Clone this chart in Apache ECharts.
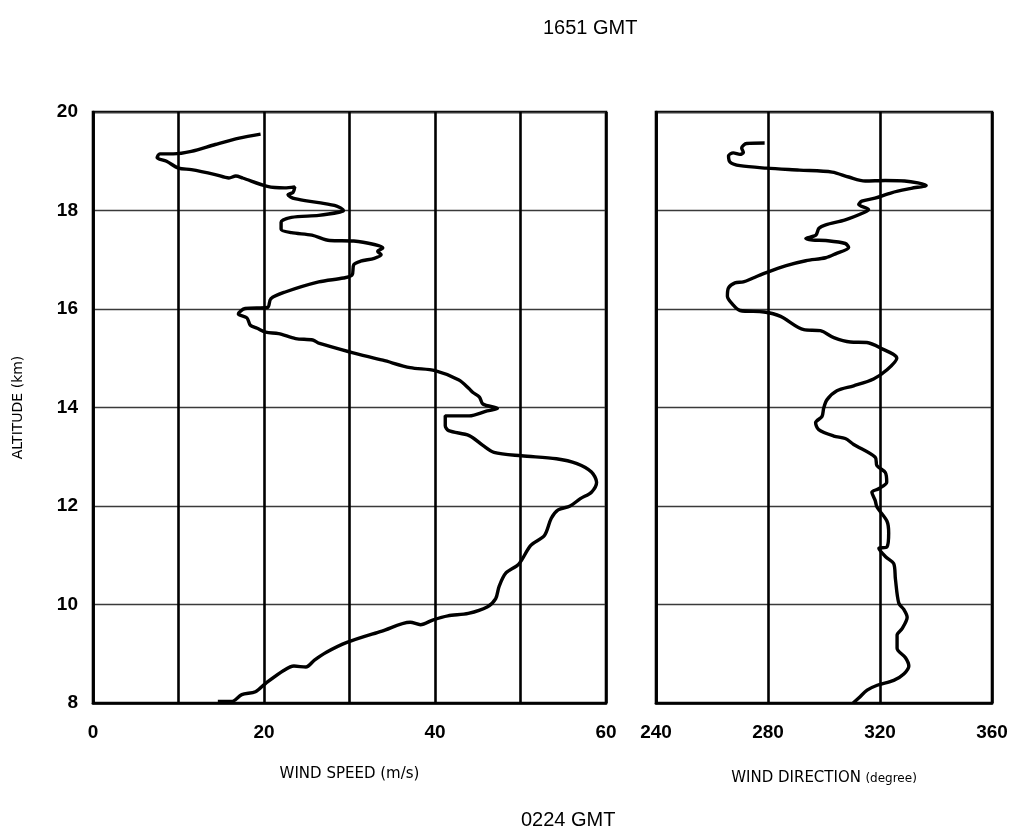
<!DOCTYPE html>
<html>
<head>
<meta charset="utf-8">
<title>Wind profile</title>
<script src="https://cdn.jsdelivr.net/npm/echarts@6/dist/echarts.min.js"></script>
<style>
  html, body { margin: 0; padding: 0; background: #fff; }
  #chart { width: 1012px; height: 835px; }
</style>
</head>
<body>
<div id="chart"></div>
<script>
// Wind speed profile (m/s) against altitude (km), top of sounding downward
const speedAlt = [19.55, 19.47, 19.34, 19.2, 19.15, 19.15, 19.07, 19.0, 18.86, 18.83, 18.73, 18.66, 18.7, 18.66,
  18.49, 18.46, 18.48, 18.37, 18.32, 18.24, 18.16, 18.09, 18.0, 17.97, 17.9, 17.86, 17.76, 17.62, 17.55, 17.5,
  17.39, 17.38, 17.31, 17.24, 17.17, 17.1, 17.03, 16.97, 16.9, 16.69, 16.63, 16.55, 16.34, 16.21, 16.03,
  16.01, 15.9, 15.82, 15.67, 15.61, 15.53, 15.5, 15.4, 15.37, 15.3, 15.12, 14.96, 14.81, 14.75, 14.56, 14.38,
  14.31, 14.21, 14.07, 13.98, 13.93, 13.83, 13.83, 13.63, 13.53, 13.43, 13.23, 13.09, 13.02, 12.96, 12.86,
  12.69, 12.48, 12.28, 12.15, 12.0, 11.92, 11.75, 11.4, 11.2, 10.82, 10.64, 10.37, 10.12, 9.95, 9.82, 9.77,
  9.69, 9.59, 9.64, 9.46, 9.23, 9.03, 8.87, 8.73, 8.75, 8.66, 8.4, 8.23, 8.17, 8.03, 8.03];
const speedVal = [19.6, 17.1, 14.3, 11.5, 9.4, 7.8, 7.5, 8.6, 10.0, 11.5, 14.3, 15.9, 16.7, 17.5,
  20.4, 22.4, 23.6, 23.4, 22.8, 23.6, 26.4, 28.5, 29.3, 28.9, 26.4, 23.2, 22.0, 22.0, 23.2, 25.6,
  27.7, 30.5, 32.9, 33.9, 33.3, 33.7, 32.9, 31.3, 30.5, 30.3, 29.3, 26.4, 22.4, 20.8, 20.4,
  17.8, 17.0, 18.0, 18.4, 19.2, 20.2, 21.7, 23.7, 25.7, 26.5, 30.2, 33.9, 37.1, 40.0, 42.8, 44.0,
  44.4, 45.2, 45.6, 47.3, 46.1, 44.0, 41.2, 41.2, 41.6, 44.0, 45.6, 46.9, 50.1, 54.2, 56.6,
  58.3, 58.9, 58.3, 57.0, 55.8, 54.4, 53.6, 52.8, 51.2, 49.8, 48.3, 47.5, 47.1, 46.1, 43.9, 41.5,
  39.8, 38.3, 37.1, 33.8, 29.7, 27.3, 25.9, 24.9, 23.5, 22.3, 20.2, 19.0, 17.4, 16.2, 14.6];

// Wind direction profile (degree) against altitude (km)
const dirAlt = [19.37, 19.36, 19.27, 19.18, 19.14, 19.17, 19.11, 18.98, 18.91, 18.86, 18.82, 18.78, 18.68, 18.6,
  18.61, 18.6, 18.51, 18.45, 18.36, 18.25, 18.19, 18.12, 18.02, 17.97, 17.81, 17.71, 17.64, 17.5, 17.43, 17.4,
  17.39, 17.33, 17.25, 17.12, 17.04, 16.98, 16.88, 16.74, 16.63, 16.55, 16.53, 16.43, 16.26, 16.08, 15.97,
  15.94, 15.85, 15.58, 15.56, 15.42, 15.33, 15.32, 15.21, 15.0, 14.76, 14.58, 14.44, 14.34, 14.16, 13.99,
  13.82, 13.69, 13.55, 13.42, 13.37, 13.25, 12.99, 12.82, 12.68, 12.48, 12.35, 12.28, 12.11, 11.98,
  11.69, 11.45, 11.17, 11.14, 10.97, 10.83, 10.52, 10.03, 9.9, 9.74, 9.51, 9.38, 9.11, 8.92, 8.75, 8.59,
  8.46, 8.36, 8.26, 8.1, 8.0];
const dirVal = [278.8, 272.4, 270.6, 271.2, 270.0, 267.6, 265.9, 266.5, 270.0, 279.4, 291.2, 302.9, 308.8, 314.7,
  321.8, 328.8, 336.5, 331.2, 324.1, 318.2, 313.5, 312.4, 315.9, 314.7, 307.6, 300.6, 298.2, 297.1, 293.5, 295.9,
  300.6, 307.6, 308.8, 304.1, 300.6, 293.5, 286.5, 279.4, 274.7, 271.2, 268.2, 265.9, 265.5, 267.6, 270.0,
  278.6, 284.5, 292.8, 298.7, 303.5, 309.4, 315.3, 320.1, 326.0, 322.4, 317.7, 310.6, 304.6, 301.1, 299.9,
  299.3, 297.0, 298.1, 303.5, 307.6, 310.6, 318.3, 318.9, 321.9, 322.4, 319.5, 317.1, 318.3, 318.9,
  322.5, 323.1, 322.5, 319.6, 322.0, 324.9, 325.5, 326.7, 328.5, 329.7, 327.9, 326.1, 326.1, 329.1, 330.3, 328.5,
  324.9, 319.0, 315.4, 312.4, 310.4];

// Axis ranges and tick steps
const altTicks = { min: 8, max: 20, step: 2 };
const speedTicks = { min: 0, max: 60, step: 10, labelStep: 20 };
const dirTicks = { min: 240, max: 360, step: 40 };

const speedData = speedVal.map((v, i) => [v, speedAlt[i]]);
const dirData = dirVal.map((v, i) => [v, dirAlt[i]]);

const tickFont = { fontFamily: 'Liberation Sans, Arial, sans-serif', fontWeight: 'bold', fontSize: 19, color: '#000' };
const nameFont = { fontFamily: 'DejaVu Sans, sans-serif', fontSize: 14, color: '#000' };

const vLine = { show: true, lineStyle: { color: '#000', width: 2.6 } };
const hLine = { show: true, lineStyle: { color: '#3a3a3a', width: 1.4 } };

const chart = echarts.init(document.getElementById('chart'), null, { renderer: 'canvas' });

chart.setOption({
  backgroundColor: '#fff',
  animation: false,
  grid: [
    { left: 93, right: 406, top: 112, bottom: 132, show: true, borderColor: '#000', borderWidth: 2.6, backgroundColor: 'transparent' },
    { left: 656, right: 20, top: 112, bottom: 132, show: true, borderColor: '#000', borderWidth: 2.6, backgroundColor: 'transparent' }
  ],
  xAxis: [
    {
      gridIndex: 0, type: 'value', min: speedTicks.min, max: speedTicks.max, interval: speedTicks.step,
      axisLine: { show: true, lineStyle: { color: '#000', width: 2.6 } },
      axisTick: { show: false },
      splitLine: vLine,
      axisLabel: Object.assign({ margin: 20, formatter: v => (v % speedTicks.labelStep === 0 ? String(v) : '') }, tickFont),
      name: 'WIND SPEED (m/s)', nameLocation: 'middle', nameGap: 64,
      nameTextStyle: Object.assign({}, nameFont, { fontSize: 15 })
    },
    {
      gridIndex: 1, type: 'value', min: dirTicks.min, max: dirTicks.max, interval: dirTicks.step,
      axisLine: { show: true, lineStyle: { color: '#000', width: 2.6 } },
      axisTick: { show: false },
      splitLine: vLine,
      axisLabel: Object.assign({ margin: 20 }, tickFont),
      name: '{a|WIND DIRECTION} {b|(degree)}', nameLocation: 'middle', nameGap: 68,
      nameTextStyle: Object.assign({}, nameFont, {
        rich: {
          a: { fontFamily: 'DejaVu Sans, sans-serif', fontSize: 15, color: '#000' },
          b: { fontFamily: 'DejaVu Sans, sans-serif', fontSize: 12, color: '#000' }
        }
      })
    }
  ],
  yAxis: [
    {
      gridIndex: 0, type: 'value', min: altTicks.min, max: altTicks.max, interval: altTicks.step,
      axisLine: { show: true, lineStyle: { color: '#000', width: 2.6 } },
      axisTick: { show: false },
      splitLine: hLine,
      axisLabel: Object.assign({ margin: 15 }, tickFont),
      name: 'ALTITUDE (km)', nameLocation: 'middle', nameGap: 68, nameRotate: 90,
      nameTextStyle: nameFont
    },
    {
      gridIndex: 1, type: 'value', min: altTicks.min, max: altTicks.max, interval: altTicks.step,
      axisLine: { show: true, lineStyle: { color: '#000', width: 2.6 } },
      axisTick: { show: false },
      splitLine: hLine,
      axisLabel: { show: false }
    }
  ],
  graphic: [
    { type: 'text', left: 543, top: 18, style: { text: '1651 GMT', fontFamily: 'Liberation Sans, Arial, sans-serif', fontSize: 20, fill: '#000' } },
    { type: 'text', left: 521, top: 810, style: { text: '0224 GMT', fontFamily: 'Liberation Sans, Arial, sans-serif', fontSize: 20, fill: '#000' } }
  ],
  series: [
    {
      type: 'line', xAxisIndex: 0, yAxisIndex: 0, data: speedData,
      showSymbol: false, smooth: 0.3, lineStyle: { color: '#000', width: 3.4 }, z: 5
    },
    {
      type: 'line', xAxisIndex: 1, yAxisIndex: 1, data: dirData,
      showSymbol: false, smooth: 0.3, lineStyle: { color: '#000', width: 3.4 }, z: 5
    }
  ]
});
</script>
</body>
</html>
